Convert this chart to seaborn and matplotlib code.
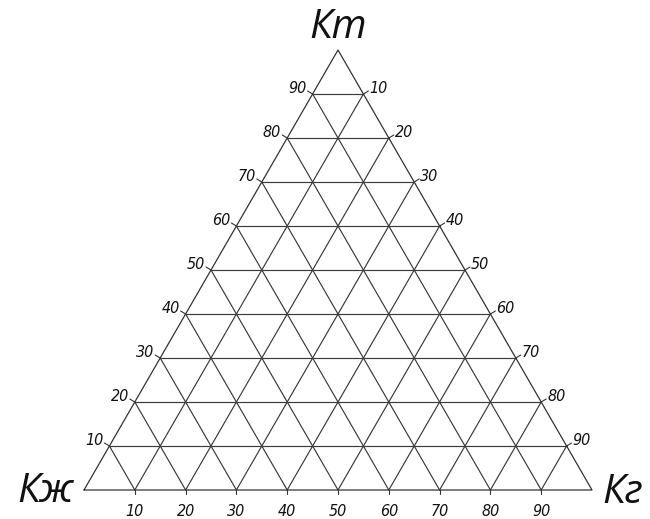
import numpy as np
import pandas as pd
import matplotlib
matplotlib.use("Agg")
import matplotlib.pyplot as plt
import seaborn as sns

# Ternary grid: composition levels in percent
levels = [10, 20, 30, 40, 50, 60, 70, 80, 90]
bottom_labels = ["10", "20", "30", "40", "50", "60", "70", "80", "90"]
left_labels = ["10", "20", "30", "40", "50", "60", "70", "80", "90"]
right_labels = ["10", "20", "30", "40", "50", "60", "70", "80", "90"]
vertex_names = ["Кж", "Кг", "Кт"]

H = np.sqrt(3) / 2 * 100  # triangle height in data units


def left_pt(t):
    return (t / 2, t * H / 100)


def right_pt(r):
    return (50 + r / 2, (100 - r) * H / 100)


segs = []
sid = 0
for v in levels:
    # horizontal lines (Кт levels)
    (x0, y0), (x1, y1) = left_pt(v), (100 - v / 2, v * H / 100)
    segs += [(sid, x0, y0), (sid, x1, y1)]
    sid += 1
    # lines parallel to the left side
    (x1, y1) = (v + (100 - v) / 2, (100 - v) * H / 100)
    segs += [(sid, v, 0.0), (sid, x1, y1)]
    sid += 1
    # lines parallel to the right side
    (x1, y1) = left_pt(v)
    segs += [(sid, v, 0.0), (sid, x1, y1)]
    sid += 1
grid = pd.DataFrame(segs, columns=["seg", "x", "y"])

frame = pd.DataFrame({"seg": [0, 0, 0, 0],
                      "x": [0, 100, 50, 0],
                      "y": [0, 0, H, 0]})

sns.set_theme(style="white")
plt.rcParams["font.family"] = ["DejaVu Sans"]

fig = plt.figure(figsize=(6.5, 5.19), dpi=100)
W, Hp = 650, 519
ax = fig.add_axes([84 / W, (519 - 490) / Hp, 508 / W, 440 / Hp])
ax.set_xlim(0, 100)
ax.set_ylim(0, H)
ax.axis("off")

sns.lineplot(data=grid, x="x", y="y", units="seg", estimator=None, sort=False,
             color="#3a3a3a", linewidth=0.85, ax=ax, legend=False)
sns.lineplot(data=frame, x="x", y="y", units="seg", estimator=None, sort=False,
             color="#333333", linewidth=0.9, ax=ax, legend=False)
for ln in ax.lines:
    ln.set_clip_on(False)

px = 100 / 508  # data units per pixel
tick_font = dict(fontsize=11.5, fontstyle="italic", stretch="condensed",
                 color="#111111")

for v, lb in zip(levels, bottom_labels):
    ax.plot([v, v], [0, -4 * px], color="#333333", lw=0.8, clip_on=False)
    ax.text(v, -14 * px, lb, ha="center", va="top", **tick_font)

for v, lb in zip(levels, left_labels):
    x, y = left_pt(v)
    ax.plot([x, x - 5 * px], [y, y + 3 * px], color="#333333", lw=0.8,
            clip_on=False)
    ax.text(x - 6 * px, y + 5 * px, lb, ha="right", va="center", **tick_font)

for v, lb in zip(levels, right_labels):
    x, y = right_pt(v)
    ax.plot([x, x + 5 * px], [y, y + 3 * px], color="#333333", lw=0.8,
            clip_on=False)
    ax.text(x + 6 * px, y + 5 * px, lb, ha="left", va="center", **tick_font)

name_font = dict(fontsize=29, fontstyle="italic",
                 family=["Open Sans", "DejaVu Sans"], color="#111111")
ax.text(-11 * px, -2 * px, vertex_names[0], ha="right", va="center", **name_font)
ax.text(100 + 10 * px, -3 * px, vertex_names[1], ha="left", va="center",
        **name_font)
ax.text(50, H + 22 * px, vertex_names[2], ha="center", va="center",
        **name_font)

fig.savefig("out.png", dpi=100, facecolor="white")
